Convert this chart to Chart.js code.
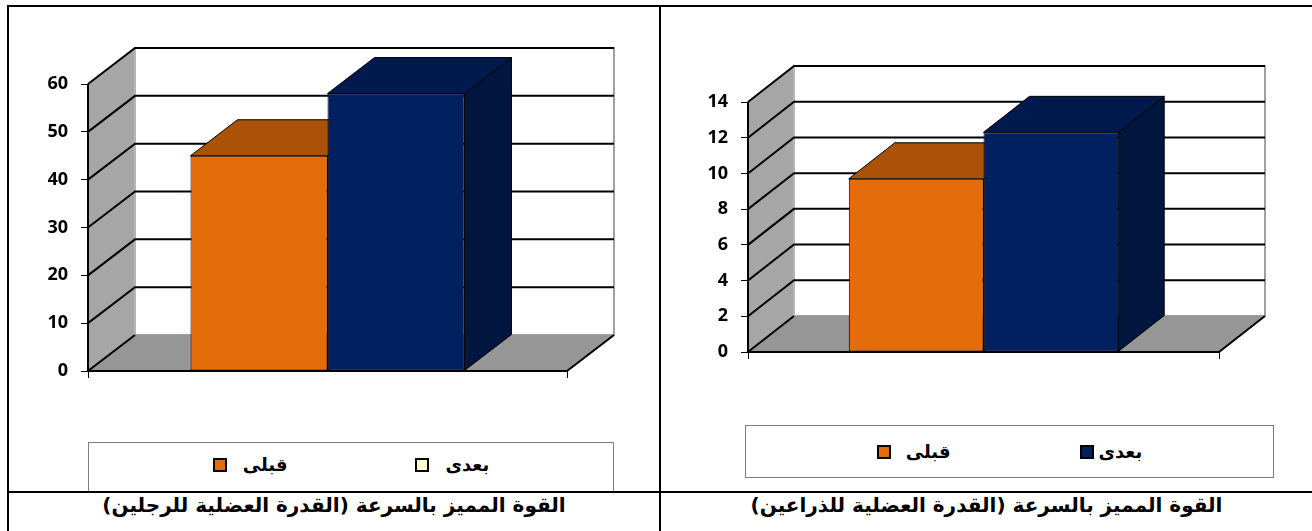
<!DOCTYPE html>
<html>
<head>
<meta charset="utf-8">
<script src="https://cdn.jsdelivr.net/npm/chart.js@4.4.1/dist/chart.umd.min.js"></script>
<style>
body { margin: 0; width: 1312px; height: 531px; position: relative; background: #fff; overflow: hidden; }
canvas { position: absolute; top: 0; }
.line { position: absolute; background: #000; z-index: 5; }
.legend { position: absolute; border: 1px solid #7f7f7f; background: #fff; box-sizing: border-box;
  display: flex; justify-content: center; align-items: center; direction: ltr;
  font: bold 18px "DejaVu Sans", sans-serif; color: #000; }
.item { display: flex; align-items: center; }
.sw { width: 10px; height: 10px; border: 2px solid #000; }
.caption { position: absolute; top: 493px; height: 38px; line-height: 38px; text-align: center;
  font: bold 20px "DejaVu Sans", sans-serif; direction: rtl; color: #000; }
</style>
</head>
<body>
<canvas id="legs" width="658" height="490" style="left:0"></canvas>
<canvas id="arms" width="651" height="490" style="left:661px"></canvas>

<div class="line" style="left:7px;top:5px;width:1305px;height:2px"></div>
<div class="line" style="left:7px;top:5px;width:2px;height:526px"></div>
<div class="line" style="left:659px;top:5px;width:2px;height:526px"></div>
<div class="line" style="left:7px;top:491px;width:1305px;height:2px"></div>

<div class="legend" id="legsLegend" style="left:88px;top:442px;width:526px;height:51px;padding-bottom:6px;gap:128px"></div>
<div class="legend" id="armsLegend" style="left:745px;top:425px;width:529px;height:53px;gap:130px"></div>

<div class="caption" id="legsCaption" style="left:9px;width:650px"></div>
<div class="caption" id="armsCaption" style="left:661px;width:651px"></div>

<script>
const categories = [''];
const seriesNames = ['قبلى', 'بعدى'];
const legsValues = [45, 58];
const armsValues = [9.7, 12.3];
const legsTicks = [0, 10, 20, 30, 40, 50, 60];
const armsTicks = [0, 2, 4, 6, 8, 10, 12, 14];
const frontColors = ['#E46C0A', '#002060'];
const topColors = ['#AA5208', '#001A4E'];
const sideColors = ['#9A4A07', '#00163F'];
const legsLegendColors = ['#E46C0A', '#FFFFCC'];
const armsLegendColors = ['#E46C0A', '#002060'];
const legsCaption = 'القوة المميز بالسرعة (القدرة العضلية للرجلين)';
const armsCaption = 'القوة المميز بالسرعة (القدرة العضلية للذراعين)';

function poly(ctx, pts, fill, stroke, lw) {
    ctx.beginPath();
    ctx.moveTo(pts[0][0], pts[0][1]);
    pts.slice(1).forEach(p => ctx.lineTo(p[0], p[1]));
    ctx.closePath();
    if (fill) { ctx.fillStyle = fill; ctx.fill(); }
    if (stroke) { ctx.strokeStyle = stroke; ctx.lineWidth = lw || 1; ctx.stroke(); }
}

// walls, floor, gridlines and the hidden faces of the bars
const box3d = {
    id: 'box3d',
    beforeDatasetsDraw(chart, args, opts) {
        const ctx = chart.ctx;
        const a = chart.chartArea;
        const y = chart.scales.y;
        const dx = opts.dx, dy = opts.dy;
        ctx.save();
        // back wall
        poly(ctx, [[a.left + dx, a.top - dy], [a.right + dx, a.top - dy], [a.right + dx, a.bottom - dy], [a.left + dx, a.bottom - dy]], '#fff', '#a0a0a0', 2);
        // side wall
        poly(ctx, [[a.left, a.top], [a.left + dx, a.top - dy], [a.left + dx, a.bottom - dy], [a.left, a.bottom]], '#a6a6a6', '#c8c8c8', 1);
        // floor
        poly(ctx, [[a.left, a.bottom], [a.left + dx, a.bottom - dy], [a.right + dx, a.bottom - dy], [a.right, a.bottom]], '#969696');
        // gridlines
        ctx.strokeStyle = '#000';
        ctx.lineWidth = 2;
        y.ticks.forEach(t => {
            if (t.value === y.min) return;
            const yf = y.getPixelForValue(t.value);
            ctx.beginPath();
            ctx.moveTo(a.left, yf);
            ctx.lineTo(a.left + dx, yf - dy);
            ctx.lineTo(a.right + dx, yf - dy);
            ctx.stroke();
        });
        // floor edges
        ctx.beginPath();
        ctx.moveTo(a.left + dx, a.bottom - dy);
        ctx.lineTo(a.left, a.bottom);
        ctx.lineTo(a.right, a.bottom);
        ctx.lineTo(a.right + dx, a.bottom - dy);
        ctx.stroke();
        // front edge of the side wall
        ctx.beginPath();
        ctx.moveTo(a.left, a.top);
        ctx.lineTo(a.left, a.bottom);
        ctx.stroke();
        // top and side faces
        chart.data.datasets.forEach((ds, i) => {
            chart.getDatasetMeta(i).data.forEach(bar => {
                const p = bar.getProps(['x', 'y', 'base', 'width'], true);
                const l = p.x - p.width / 2, r = p.x + p.width / 2;
                poly(ctx, [[r, p.y], [r + dx, p.y - dy], [r + dx, p.base - dy], [r, p.base]], sideColors[i], '#000', 1);
                poly(ctx, [[l, p.y], [r, p.y], [r + dx, p.y - dy], [l + dx, p.y - dy]], topColors[i], '#000', 1);
            });
        });
        ctx.restore();
    }
};

function drawBars(id, values, ticks, pad, depth) {
    return new Chart(document.getElementById(id), {
        type: 'bar',
        plugins: [box3d],
        data: {
            labels: categories,
            datasets: seriesNames.map((name, i) => ({
                label: name,
                data: [values[i]],
                backgroundColor: frontColors[i],
                borderColor: '#000',
                borderWidth: 1,
                borderSkipped: false
            }))
        },
        options: {
            responsive: false,
            animation: false,
            events: [],
            layout: { padding: pad },
            categoryPercentage: 0.572,
            barPercentage: 1,
            plugins: {
                legend: { display: false },
                tooltip: { enabled: false },
                box3d: depth
            },
            scales: {
                x: {
                    ticks: { display: false },
                    grid: { offset: true, drawOnChartArea: false, tickLength: 7, color: '#000', lineWidth: 1 },
                    border: { display: false },
                    afterFit: s => { s.height = 10; }
                },
                y: {
                    min: ticks[0],
                    max: ticks[ticks.length - 1],
                    afterBuildTicks: s => { s.ticks = ticks.map(v => ({ value: v })); },
                    ticks: { color: '#000', padding: 13, font: { family: '"Open Sans"', weight: 'bold', size: 18 } },
                    grid: { drawOnChartArea: false, tickLength: 7, color: '#000', lineWidth: 1 },
                    border: { display: false },
                    afterFit: s => { s.width = 40; }
                }
            }
        }
    });
}

drawBars('legs', legsValues, legsTicks, { left: 48, right: 91, top: 84, bottom: 109 }, { dx: 47, dy: 36 });
drawBars('arms', armsValues, armsTicks, { left: 47, right: 93, top: 102, bottom: 128 }, { dx: 46, dy: 36 });

function fillLegend(id, colors, gap) {
    const box = document.getElementById(id);
    seriesNames.forEach((name, i) => {
        const item = document.createElement('div');
        item.className = 'item';
        item.style.gap = gap[i] + 'px';
        const sw = document.createElement('div');
        sw.className = 'sw';
        sw.style.background = colors[i];
        const txt = document.createElement('span');
        txt.textContent = name;
        item.appendChild(sw);
        item.appendChild(txt);
        box.appendChild(item);
    });
}
fillLegend('legsLegend', legsLegendColors, [16, 16]);
fillLegend('armsLegend', armsLegendColors, [15, 4]);

document.getElementById('legsCaption').textContent = legsCaption;
document.getElementById('armsCaption').textContent = armsCaption;
</script>
</body>
</html>
